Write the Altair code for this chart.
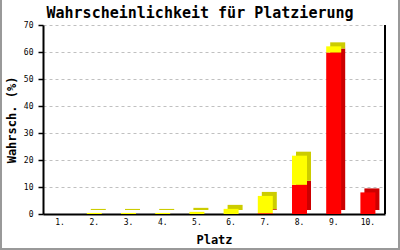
import altair as alt
import pandas as pd

places = ["1.", "2.", "3.", "4.", "5.", "6.", "7.", "8.", "9.", "10."]
rot = [0, 0, 0, 0, 0, 0, 0.3, 10.8, 59.8, 8.0]
gelb = [0, 0.4, 0.4, 0.4, 0.8, 1.9, 6.4, 10.8, 2.3, 0]
title_text = "Wahrscheinlichkeit für Platzierung"

rows = []
for p, r, g in zip(places, rot, gelb):
    rows.append({"platz": p, "serie": "rot", "ord": 0, "wert": r})
    rows.append({"platz": p, "serie": "gelb", "ord": 1, "wert": g})
df = pd.DataFrame(rows)

W, H = 342, 189
MONO = "DejaVu Sans Mono"

x_enc = alt.X("platz:N", sort=places, scale=alt.Scale(paddingInner=0, paddingOuter=0),
              axis=alt.Axis(title="Platz", labelAngle=0, ticks=False, tickSize=0,
                            labelFont=MONO, labelFontSize=8, labelColor="black",
                            labelBaseline="middle", labelPadding=8,
                            domainColor="black", domainWidth=2,
                            titleFont=MONO, titleFontSize=12, titleFontWeight="bold",
                            titleY=25, titleBaseline="middle", titleColor="black"))
y_enc = alt.Y("wert:Q", stack="zero", scale=alt.Scale(domain=[0, 70], nice=False),
              axis=alt.Axis(title="Wahrsch. (%)", values=[0, 10, 20, 30, 40, 50, 60, 70],
                            tickSize=5, tickColor="black", tickWidth=1.5,
                            labelFont=MONO, labelFontSize=8, labelColor="black", labelPadding=5,
                            domainColor="black", domainWidth=2,
                            grid=True, gridColor="#c0c0c0", gridDash=[3, 3], gridWidth=1,
                            titleFont=MONO, titleFontSize=12, titleFontWeight="bold",
                            titleColor="black", titleX=-32, titleY=H / 2, titleAngle=270,
                            titleAlign="center", titleBaseline="middle"))

base = alt.Chart(df)

back = base.mark_bar(size=15, xOffset=4, yOffset=-4).encode(
    x=x_enc, y=y_enc,
    color=alt.Color("serie:N", scale=alt.Scale(domain=["rot", "gelb"], range=["#cc0000", "#cccc00"]), legend=None),
    order=alt.Order("ord:Q"),
)
front = base.mark_bar(size=15).encode(
    x=x_enc, y=y_enc,
    color=alt.Color("serie:N", scale=alt.Scale(domain=["rot", "gelb"], range=["#ff0000", "#ffff00"]), legend=None),
    order=alt.Order("ord:Q"),
)

border_src = alt.Chart(pd.DataFrame({"k": [0]}))
right_border = border_src.mark_rule(color="black", strokeWidth=2).encode(
    x=alt.value(W), y=alt.value(0), y2=alt.value(H))
frame_left = border_src.mark_rule(color="#999999", strokeWidth=2).encode(
    x=alt.value(-42), y=alt.value(-25), y2=alt.value(H + 36))
frame_right = border_src.mark_rule(color="#999999", strokeWidth=2).encode(
    x=alt.value(W + 14), y=alt.value(-25), y2=alt.value(H + 36))
frame_bottom = border_src.mark_rule(color="#999999", strokeWidth=2).encode(
    x=alt.value(-43), x2=alt.value(W + 15), y=alt.value(H + 35))
title_mark = border_src.mark_text(font=MONO, fontSize=15, fontWeight="bold", color="black",
                                  align="center", baseline="alphabetic").encode(
    x=alt.value(157), y=alt.value(-7), text=alt.value(title_text))

chart = alt.layer(back, front, right_border, frame_left, frame_right, frame_bottom, title_mark).resolve_scale(
    color="independent"
).properties(
    width=W, height=H,
    autosize=alt.AutoSizeParams(type="none"),
    padding={"left": 43, "top": 25, "right": 15, "bottom": 36},
    background="white",
).configure_view(stroke=None)

chart.save("out.html", embed_options={"renderer": "svg", "actions": False})
